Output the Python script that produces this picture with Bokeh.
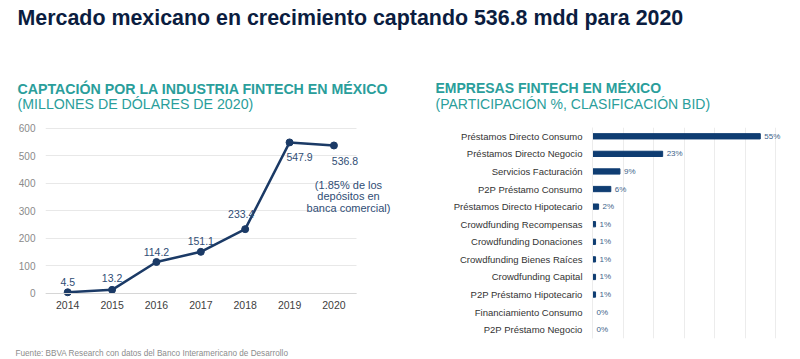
from bokeh.plotting import figure
from bokeh.models import ColumnDataSource, Range1d, FactorRange, Label, FixedTicker
from bokeh.layouts import column, row
from bokeh.embed import file_html
from bokeh.resources import INLINE
from bokeh.core.properties import value

# ---------------- data ----------------
years = [2014, 2015, 2016, 2017, 2018, 2019, 2020]
captacion = [4.5, 13.2, 114.2, 151.1, 233.4, 547.9, 536.8]
captacion_labels = ["4.5", "13.2", "114.2", "151.1", "233.4", "547.9", "536.8"]

categorias = [
    "Préstamos Directo Consumo",
    "Préstamos Directo Negocio",
    "Servicios Facturación",
    "P2P Préstamo Consumo",
    "Préstamos Directo Hipotecario",
    "Crowdfunding Recompensas",
    "Crowdfunding Donaciones",
    "Crowdfunding Bienes Raíces",
    "Crowdfunding Capital",
    "P2P Préstamo Hipotecario",
    "Financiamiento Consumo",
    "P2P Préstamo Negocio",
]
participacion = [55, 23, 9, 6, 2, 1, 1, 1, 1, 1, 0, 0]

y_ticks_left = [0, 100, 200, 300, 400, 500, 600]
x_ticks_right = [0, 10, 20, 30, 40, 50, 60]

FONT = "Liberation Sans"
NAVY = "#0b1d40"
TEAL = "#2a9e9b"
LINE = "#1b3a66"
BAR = "#0f3d72"

HEADER_H = 116

def bare(fig):
    fig.axis.visible = False
    fig.grid.visible = False
    fig.outline_line_color = None

def hlabel(text, x, page_baseline, size, bold=False, color=TEAL):
    return Label(x=x, y=HEADER_H - page_baseline + 3, x_units="screen", y_units="screen",
                 text=text, text_font=FONT, text_font_size=size,
                 text_font_style="bold" if bold else "normal",
                 text_color=color, text_baseline="alphabetic")

# ---------------- header (titles) ----------------
header = figure(width=800, height=HEADER_H, output_backend="svg", toolbar_location=None,
                x_range=Range1d(0, 1), y_range=Range1d(0, 1), min_border=0)
bare(header)
header.add_layout(hlabel("Mercado mexicano en crecimiento captando 536.8 mdd para 2020",
                         17, 20, "21.4px", bold=True, color=NAVY))
header.add_layout(hlabel("CAPTACIÓN POR LA INDUSTRIA FINTECH EN MÉXICO", 17, 91, "14.2px", bold=True))
header.add_layout(hlabel("(MILLONES DE DÓLARES DE 2020)", 17, 106, "14.2px"))
header.add_layout(hlabel("EMPRESAS FINTECH EN MÉXICO", 435, 90, "14px", bold=True))
header.add_layout(hlabel("(PARTICIPACIÓN %, CLASIFICACIÓN BID)", 435, 106, "14px"))

# ---------------- left chart ----------------
left = figure(width=408, height=340 - HEADER_H, output_backend="svg", toolbar_location=None,
              x_range=Range1d(2013.5, 2021.5), y_range=Range1d(-163.2, 602),
              min_border_left=45, min_border_right=8, min_border_top=127 - HEADER_H,
              min_border_bottom=2)
left.outline_line_color = None
left.xgrid.visible = False
left.ygrid.grid_line_color = "#e8e8e8"
left.ygrid.ticker = FixedTicker(ticks=y_ticks_left)
try:
    left.ygrid.cross_bounds = (2013.5, 2020.5)
except Exception:
    pass
left.yaxis.ticker = FixedTicker(ticks=y_ticks_left)
left.xaxis.ticker = FixedTicker(ticks=years)
left.xaxis.fixed_location = 0
left.xaxis.bounds = (2013.5, 2020.5)
left.yaxis.axis_line_color = None
left.xaxis.axis_line_color = "#d6d6d6"
for ax in (left.xaxis, left.yaxis):
    ax.major_tick_line_color = None
    ax.minor_tick_line_color = None
    ax.major_label_text_font = FONT
left.yaxis.major_label_text_font_size = "10px"
left.yaxis.major_label_text_color = "#8a8a8a"
left.yaxis.major_label_standoff = 4
left.xaxis.major_label_text_font_size = "10.5px"
left.xaxis.major_label_text_color = "#404040"
left.xaxis.major_label_standoff = 2

src_l = ColumnDataSource(dict(x=years, y=captacion, lab=captacion_labels,
                              dx=[0, 0, 0, 0, -4, 10, 11],
                              dy=[-10, -12, -10, -11, -15, 15, 16]))
left.line("x", "y", source=src_l, line_color=LINE, line_width=2.5)
left.scatter("x", "y", source=src_l, size=7, color=LINE)
left.text("x", "y", text="lab", source=src_l, x_offset="dx", y_offset="dy",
          text_font=value(FONT), text_font_size="10.5px", text_color="#2f4d75",
          text_align="center", text_baseline="middle")

left.add_layout(Label(x=303, y=142, x_units="screen", y_units="screen",
                      text="(1.85% de los\ndepósitos en\nbanca comercial)",
                      text_font=FONT, text_font_size="11px", text_color="#2f4d75",
                      text_align="center", text_baseline="middle", text_line_height=0.95))

# ---------------- right chart ----------------
right = figure(width=392, height=340 - HEADER_H, output_backend="svg", toolbar_location=None,
               x_range=Range1d(0, 64.9), y_range=FactorRange(factors=list(reversed(categorias))),
               min_border_left=184, min_border_right=10, min_border_top=127 - HEADER_H,
               min_border_bottom=2)
right.outline_line_color = None
right.ygrid.visible = False
right.xgrid.grid_line_color = "#ececec"
right.xgrid.ticker = FixedTicker(ticks=x_ticks_right)
right.xaxis.visible = False
right.yaxis.axis_line_color = "#ececec"
right.yaxis.major_tick_line_color = None
right.yaxis.minor_tick_line_color = None
right.yaxis.major_label_text_font = FONT
right.yaxis.major_label_text_font_size = "9.5px"
right.yaxis.major_label_text_color = "#333333"
right.yaxis.major_label_standoff = 4

src_r = ColumnDataSource(dict(cat=categorias, val=participacion,
                              lab=[f"{v}%" for v in participacion]))
right.hbar(y="cat", right="val", left=0, height=0.3, source=src_r, color=BAR)
right.text(x="val", y="cat", text="lab", source=src_r, x_offset=4,
           text_font=value(FONT), text_font_size="8px", text_color="#3d5f8a",
           text_align="left", text_baseline="middle")

# ---------------- footer ----------------
footer = figure(width=800, height=19, output_backend="svg", toolbar_location=None,
                x_range=Range1d(0, 1), y_range=Range1d(0, 1), min_border=0)
bare(footer)
footer.add_layout(Label(x=15, y=6, x_units="screen", y_units="screen",
                        text="Fuente: BBVA Research con datos del Banco Interamericano de Desarrollo",
                        text_font=FONT, text_font_size="8.2px",
                        text_color="#8c8c8c", text_baseline="alphabetic"))

p = column(header, row(left, right), footer)
open("out.html", "w").write(file_html(p, INLINE))
